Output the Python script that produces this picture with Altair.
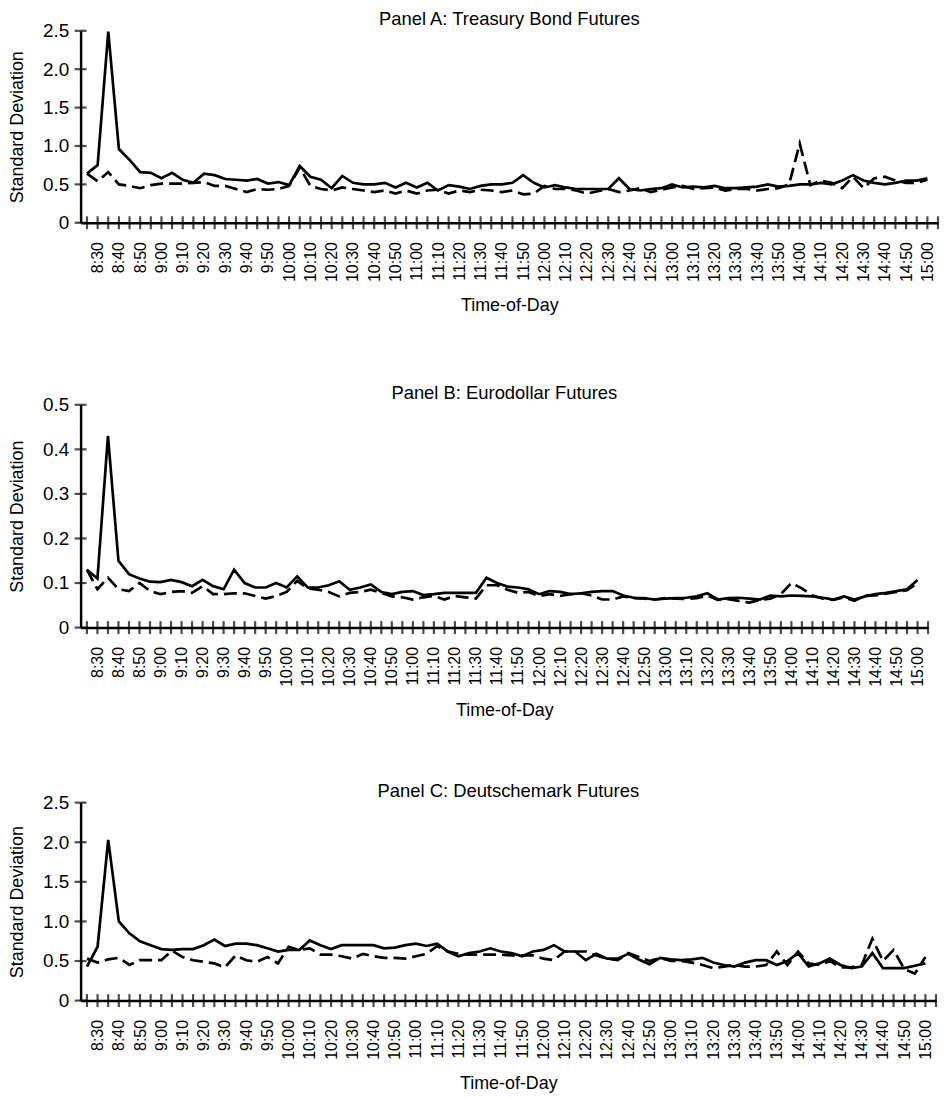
import altair as alt
import pandas as pd

FONT = "Liberation Sans"

TIMES = ["8:25", "8:30", "8:35", "8:40", "8:45", "8:50", "8:55", "9:00", "9:05", "9:10",
         "9:15", "9:20", "9:25", "9:30", "9:35", "9:40", "9:45", "9:50", "9:55", "10:00",
         "10:05", "10:10", "10:15", "10:20", "10:25", "10:30", "10:35", "10:40", "10:45", "10:50",
         "10:55", "11:00", "11:05", "11:10", "11:15", "11:20", "11:25", "11:30", "11:35", "11:40",
         "11:45", "11:50", "11:55", "12:00", "12:05", "12:10", "12:15", "12:20", "12:25", "12:30",
         "12:35", "12:40", "12:45", "12:50", "12:55", "13:00", "13:05", "13:10", "13:15", "13:20",
         "13:25", "13:30", "13:35", "13:40", "13:45", "13:50", "13:55", "14:00", "14:05", "14:10",
         "14:15", "14:20", "14:25", "14:30", "14:35", "14:40", "14:45", "14:50", "14:55", "15:00"]

A_SOLID = [0.64, 0.75, 2.49, 0.96, 0.82, 0.66, 0.65, 0.58, 0.65, 0.56,
           0.52, 0.64, 0.62, 0.57, 0.56, 0.55, 0.57, 0.51, 0.53, 0.49,
           0.74, 0.60, 0.56, 0.45, 0.61, 0.52, 0.50, 0.50, 0.52, 0.46,
           0.52, 0.46, 0.52, 0.42, 0.49, 0.47, 0.44, 0.48, 0.50, 0.50,
           0.52, 0.62, 0.52, 0.46, 0.49, 0.46, 0.44, 0.44, 0.44, 0.44,
           0.58, 0.44, 0.42, 0.44, 0.45, 0.50, 0.46, 0.47, 0.46, 0.48,
           0.45, 0.45, 0.46, 0.47, 0.50, 0.47, 0.48, 0.50, 0.50, 0.52,
           0.50, 0.55, 0.62, 0.55, 0.52, 0.50, 0.52, 0.55, 0.55, 0.58]
A_DASHED = [0.64, 0.54, 0.66, 0.50, 0.48, 0.45, 0.49, 0.51, 0.51, 0.51,
            0.52, 0.53, 0.48, 0.48, 0.44, 0.40, 0.44, 0.43, 0.44, 0.48,
            0.72, 0.48, 0.44, 0.42, 0.46, 0.44, 0.42, 0.40, 0.42, 0.38,
            0.42, 0.38, 0.42, 0.43, 0.38, 0.42, 0.40, 0.43, 0.42, 0.40,
            0.42, 0.37, 0.38, 0.48, 0.44, 0.44, 0.42, 0.38, 0.41, 0.44,
            0.40, 0.42, 0.45, 0.40, 0.43, 0.46, 0.48, 0.44, 0.45, 0.46,
            0.42, 0.44, 0.44, 0.42, 0.44, 0.45, 0.50, 1.03, 0.49, 0.55,
            0.52, 0.45, 0.60, 0.45, 0.58, 0.60, 0.55, 0.52, 0.52, 0.56]

B_SOLID = [0.130, 0.110, 0.430, 0.150, 0.120, 0.110, 0.103, 0.102, 0.107, 0.102,
           0.093, 0.107, 0.093, 0.086, 0.130, 0.100, 0.090, 0.090, 0.100, 0.090,
           0.115, 0.090, 0.090, 0.095, 0.104, 0.085, 0.090, 0.097, 0.080, 0.075,
           0.080, 0.082, 0.073, 0.075, 0.078, 0.078, 0.078, 0.078, 0.112, 0.100,
           0.092, 0.090, 0.086, 0.075, 0.082, 0.080, 0.075, 0.077, 0.080, 0.082,
           0.082, 0.072, 0.067, 0.066, 0.063, 0.065, 0.066, 0.067, 0.070, 0.077,
           0.063, 0.066, 0.067, 0.065, 0.063, 0.072, 0.070, 0.072, 0.071, 0.070,
           0.067, 0.063, 0.070, 0.063, 0.070, 0.075, 0.078, 0.082, 0.086, 0.107]
B_DASHED = [0.130, 0.086, 0.112, 0.086, 0.082, 0.100, 0.082, 0.075, 0.080, 0.082,
            0.078, 0.093, 0.075, 0.075, 0.077, 0.077, 0.071, 0.065, 0.071, 0.080,
            0.105, 0.088, 0.085, 0.080, 0.070, 0.078, 0.080, 0.085, 0.078, 0.070,
            0.068, 0.063, 0.068, 0.071, 0.063, 0.071, 0.068, 0.065, 0.095, 0.095,
            0.085, 0.078, 0.080, 0.071, 0.075, 0.071, 0.075, 0.077, 0.072, 0.063,
            0.063, 0.070, 0.066, 0.065, 0.063, 0.066, 0.065, 0.064, 0.066, 0.072,
            0.062, 0.064, 0.060, 0.056, 0.062, 0.065, 0.075, 0.100, 0.088, 0.072,
            0.065, 0.062, 0.068, 0.060, 0.072, 0.072, 0.076, 0.080, 0.084, 0.100]

C_SOLID = [0.43, 0.68, 2.03, 1.00, 0.85, 0.75, 0.70, 0.65, 0.64, 0.65,
           0.65, 0.70, 0.77, 0.69, 0.72, 0.72, 0.70, 0.66, 0.62, 0.64,
           0.64, 0.76, 0.70, 0.65, 0.70, 0.70, 0.70, 0.70, 0.66, 0.67,
           0.70, 0.72, 0.69, 0.72, 0.62, 0.56, 0.60, 0.62, 0.66, 0.62,
           0.60, 0.56, 0.62, 0.64, 0.70, 0.62, 0.62, 0.51, 0.59, 0.53,
           0.53, 0.59, 0.52, 0.46, 0.54, 0.52, 0.51, 0.52, 0.54, 0.48,
           0.45, 0.43, 0.48, 0.51, 0.51, 0.45, 0.50, 0.60, 0.43, 0.47,
           0.53, 0.45, 0.41, 0.43, 0.60, 0.41, 0.41, 0.41, 0.44, 0.47]
C_DASHED = [0.53, 0.48, 0.52, 0.54, 0.45, 0.51, 0.51, 0.51, 0.63, 0.55,
            0.51, 0.49, 0.47, 0.42, 0.57, 0.51, 0.49, 0.55, 0.47, 0.68,
            0.64, 0.66, 0.58, 0.58, 0.56, 0.53, 0.59, 0.56, 0.54, 0.54,
            0.53, 0.56, 0.59, 0.69, 0.62, 0.59, 0.58, 0.58, 0.58, 0.58,
            0.57, 0.57, 0.57, 0.53, 0.51, 0.62, 0.62, 0.62, 0.57, 0.53,
            0.51, 0.60, 0.55, 0.50, 0.54, 0.50, 0.50, 0.48, 0.45, 0.41,
            0.43, 0.45, 0.43, 0.43, 0.45, 0.62, 0.45, 0.62, 0.47, 0.45,
            0.50, 0.42, 0.42, 0.45, 0.78, 0.50, 0.64, 0.40, 0.34, 0.55]

PANELS = [
    ("Panel A: Treasury Bond Futures", A_SOLID, A_DASHED, 2.5, [0, 0.5, 1.0, 1.5, 2.0, 2.5], 862, 193, 15),
    ("Panel B: Eurodollar Futures", B_SOLID, B_DASHED, 0.5, [0, 0.1, 0.2, 0.3, 0.4, 0.5], 852, 224, 15),
    ("Panel C: Deutschemark Futures", C_SOLID, C_DASHED, 2.5, [0, 0.5, 1.0, 1.5, 2.0, 2.5], 860, 199, 15),
]

X_MIN, X_MAX = 502, 905


def to_minutes(s):
    h, m = s.split(":")
    return int(h) * 60 + int(m)


MINUTES = [to_minutes(t) for t in TIMES]
X_TICKS = [505 + 5 * k for k in range(81)]
X_LABELS = [m for m in X_TICKS if m % 10 == 0 and 510 <= m <= 900]


def panel(title, solid, dashed, ymax, yticks, w, h, tpad):
    df = pd.DataFrame({"t": MINUTES, "solid": solid, "dashed": dashed})
    xs = alt.Scale(domain=[X_MIN, X_MAX], nice=False, zero=False)
    ys = alt.Scale(domain=[0, ymax], nice=False)
    x_axis = alt.Axis(
        values=X_LABELS,
        labelExpr="floor(datum.value/60) + ':' + (datum.value % 60 < 10 ? '0' : '') + (datum.value % 60)",
        labelAngle=270, labelFontSize=16, labelPadding=19, labelFont=FONT, labelColor="black",
        labelOverlap=False, labelBound=False, labelFlush=False,
        ticks=False, tickSize=0, grid=False, domainColor="black", domainWidth=2.5,
        title="Time-of-Day", titleFontSize=18, titleFont=FONT, titleFontWeight="normal",
        titleColor="black", titlePadding=tpad,
    )
    y_axis = alt.Axis(
        values=yticks,
        labelExpr="datum.value == 0 ? '0' : format(datum.value, '.1f')",
        labelFontSize=19, labelPadding=12, labelFont=FONT, labelColor="black",
        labelOverlap=False, labelBound=False, labelFlush=False,
        ticks=False, tickSize=0, grid=False, domainColor="black", domainWidth=2.5,
        title="Standard Deviation", titleFontSize=18, titleFont=FONT, titleFontWeight="normal",
        titleColor="black", titlePadding=16,
    )
    X = lambda f: alt.X(f, scale=xs, axis=x_axis)
    Y = lambda f: alt.Y(f, scale=ys, axis=y_axis)
    base = alt.Chart(df)
    solid_line = base.mark_line(color="black", strokeWidth=2.7, clip=True).encode(
        x=X("t:Q"), y=Y("solid:Q"),
    )
    dashed_line = base.mark_line(color="black", strokeWidth=2.7, strokeDash=[13, 6], clip=True).encode(
        x=X("t:Q"), y=Y("dashed:Q"),
    )
    xt = alt.Chart(pd.DataFrame({"t": X_TICKS, "v": [0] * len(X_TICKS)})).mark_tick(
        orient="vertical", color="black", size=13, thickness=2.2
    ).encode(x=X("t:Q"), y=Y("v:Q"))
    yt = alt.Chart(pd.DataFrame({"t": [X_MIN] * len(yticks), "v": yticks})).mark_tick(
        orient="horizontal", color="black", size=12, thickness=2.2
    ).encode(x=X("t:Q"), y=Y("v:Q"))
    return alt.layer(solid_line, dashed_line, xt, yt).properties(
        width=w, height=h,
        title=alt.TitleParams(title, fontSize=18.5, font=FONT, fontWeight="normal",
                              color="black", offset=-7, anchor="middle", frame="group"),
    )


pa, pb, pc = [panel(*p) for p in PANELS]

chart = alt.vconcat(
    alt.vconcat(pa, pb, spacing=69),
    pc,
    spacing=62,
).properties(padding={"left": 0, "top": -1, "right": 0, "bottom": 0}).configure(
    background="white", view=alt.ViewConfig(stroke=None)
)

chart.save("out.html", embed_options={"renderer": "svg", "actions": False})
